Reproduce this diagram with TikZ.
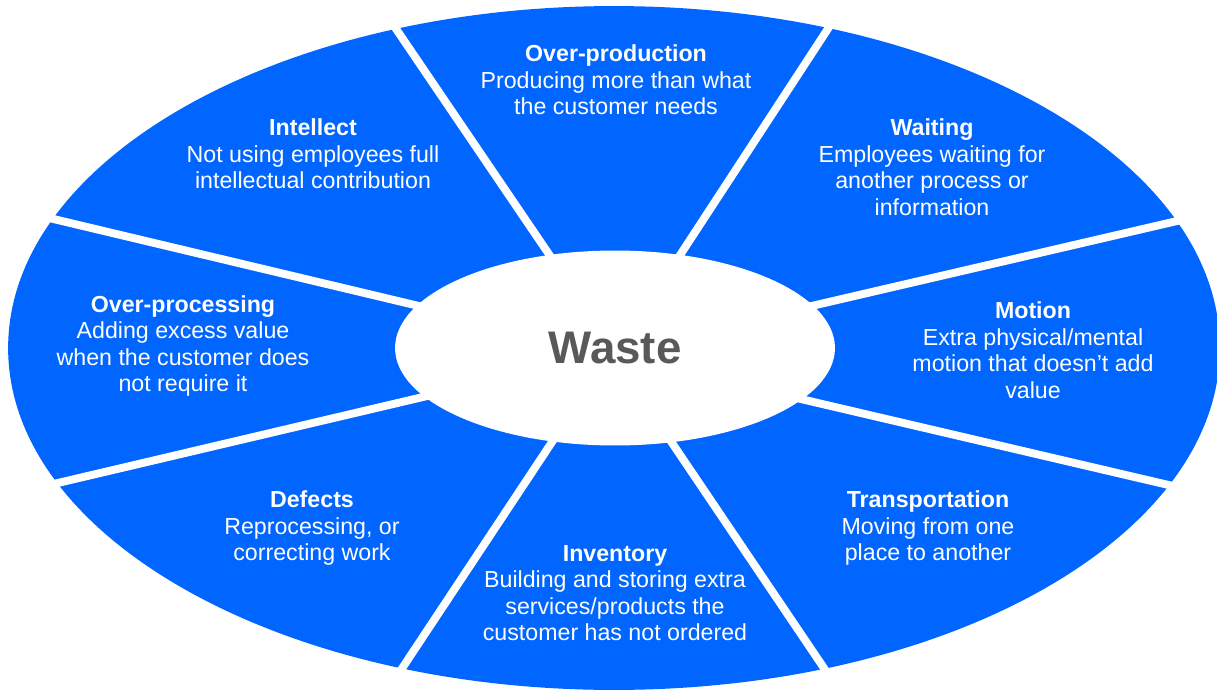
\documentclass[tikz,border=0pt]{standalone}
\usepackage{fontspec}
\setmainfont{Liberation Sans}
\usetikzlibrary{shapes.geometric}
\definecolor{wasteblue}{RGB}{0,102,255}
\definecolor{wastegray}{RGB}{89,89,89}
\tikzset{
  seg/.style={text=white, align=center, font=\fontsize{13.2}{15.1}\selectfont},
  cut/.style={white, line width=4.5pt},
}
\begin{document}
\begin{tikzpicture}[x=0.02cm, y=-0.02cm]
\useasboundingbox (0,0) rectangle (1217,693);
\clip (0,0) rectangle (1217,693);

% outer ring
\fill[wasteblue] (614,348) ellipse [x radius=12.12cm, y radius=6.84cm];

% white cuts between the segments
\draw[cut] (390,20) -- (561,272);
\draw[cut] (835,18) -- (669,272);
\draw[cut] (1190,218) -- (790,311);
\draw[cut] (1190,490) -- (788,396);
\draw[cut] (834,683) -- (664,431);
\draw[cut] (393,682) -- (558,433);
\draw[cut] (45,486) -- (440,393);
\draw[cut] (45,217) -- (440,311);

% hub
\node[ellipse, fill=white, minimum width=8.8cm, minimum height=3.9cm, inner sep=0pt,
  text=wastegray, font=\bfseries\fontsize{26}{30}\selectfont] (waste) at (615,348) {Waste};

\node[seg](s1) at (616,80) {\textbf{Over-production}\\Producing more than what\\the customer needs};
\node[seg](s2) at (932,167) {\textbf{Waiting}\\Employees waiting for\\another process or\\information};
\node[seg](s3) at (1033,350) {\textbf{Motion}\\Extra physical/mental\\motion that doesn’t add\\value};
\node[seg](s4) at (928,528) {\textbf{Transportation}\\Moving from one\\place to another};
\node[seg](s5) at (615,593) {\textbf{Inventory}\\Building and storing extra\\services/products the\\customer has not ordered};
\node[seg](s6) at (312,528) {\textbf{Defects}\\Reprocessing, or\\correcting work};
\node[seg](s7) at (183,346) {\textbf{Over-processing}\\Adding excess value\\when the customer does\\not require it};
\node[seg](s8) at (313,154) {\textbf{Intellect}\\Not using employees full\\intellectual contribution};

\end{tikzpicture}
\end{document}
